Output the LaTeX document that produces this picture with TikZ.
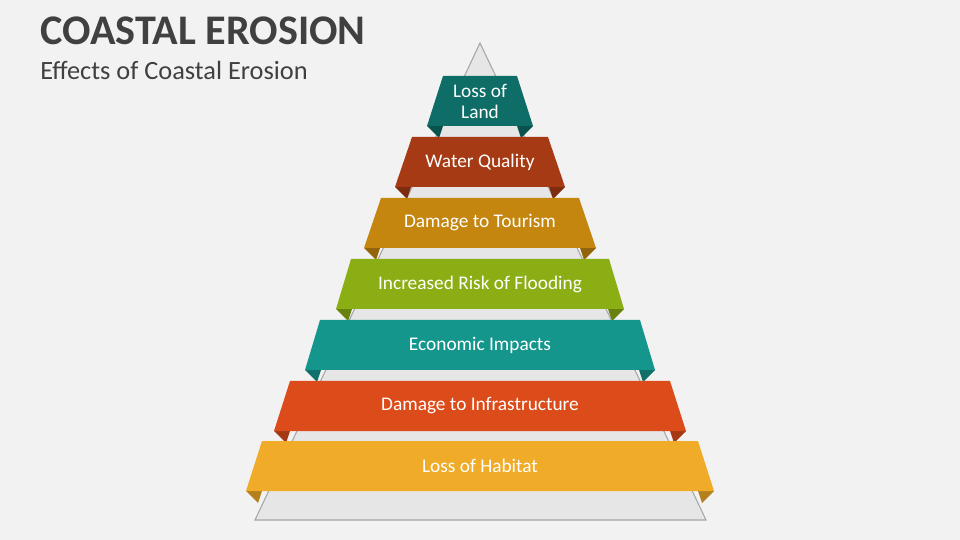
\documentclass[tikz,border=0pt]{standalone}
\usepackage{fontspec}
\setmainfont{Carlito}
\definecolor{bgcol}{HTML}{F2F2F2}
\definecolor{pyrcol}{HTML}{E6E6E6}
\definecolor{titlecol}{HTML}{404040}
\definecolor{cA}{HTML}{0E6E67}
\definecolor{cB}{HTML}{A63A14}
\definecolor{cC}{HTML}{C4860F}
\definecolor{cD}{HTML}{8AAE14}
\definecolor{cE}{HTML}{14968C}
\definecolor{cF}{HTML}{DC4C1A}
\definecolor{cG}{HTML}{F0AB28}
\tikzset{
  bandtext/.style={text=white, font=\fontsize{11}{12}\selectfont, align=center},
  fold/.style={fill=#1!75!black}
}
\begin{document}
\begin{tikzpicture}[x=0.02cm, y=-0.02cm]
    \fill[bgcol] (0,0) rectangle (960,540);
    \useasboundingbox (0,0) rectangle (960,540);

    % titles
    \node[anchor=base west, inner sep=0, text=titlecol, font=\fontsize{24}{28}\selectfont\bfseries] (title) at (40,45) {COASTAL EROSION};
    \node[anchor=base west, inner sep=0, text=titlecol, font=\fontsize{15}{18}\selectfont] (subtitle) at (40,80) {Effects of Coastal Erosion};

    % background pyramid
    \coordinate (apex) at (480,43);
    \coordinate (baseL) at (255,520);
    \coordinate (baseR) at (706,520);
    \filldraw[fill=pyrcol, draw=gray!70, line width=0.6pt] (apex) -- (baseR) -- (baseL) -- cycle;

    % bands: top y / top-left x / bottom-left x / colour / text
    \foreach \yt/\xt/\xb/\col/\txt in {
        76/443/427/cA/{Loss of\\Land},
        137/412/395/cB/Water Quality,
        198/381/364/cC/Damage to Tourism,
        259/351/336/cD/Increased Risk of Flooding,
        320/320/305/cE/Economic Impacts,
        381/290/274/cF/Damage to Infrastructure,
        441/262/246/cG/Loss of Habitat} {
      \pgfmathsetmacro{\yb}{\yt+50}
      \fill[fold=\col] (\xb,\yb) -- ({\xb+16},\yb) -- ({\xb+12},{\yb+12}) -- cycle;
      \fill[fold=\col] ({960-\xb},\yb) -- ({944-\xb},\yb) -- ({948-\xb},{\yb+12}) -- cycle;
      \fill[\col] (\xt,\yt) -- ({960-\xt},\yt) -- ({960-\xb},\yb) -- (\xb,\yb) -- cycle;
      \node[bandtext] (band-\yt) at (480,{\yt+25}) {\txt};
    }
\end{tikzpicture}
\end{document}
